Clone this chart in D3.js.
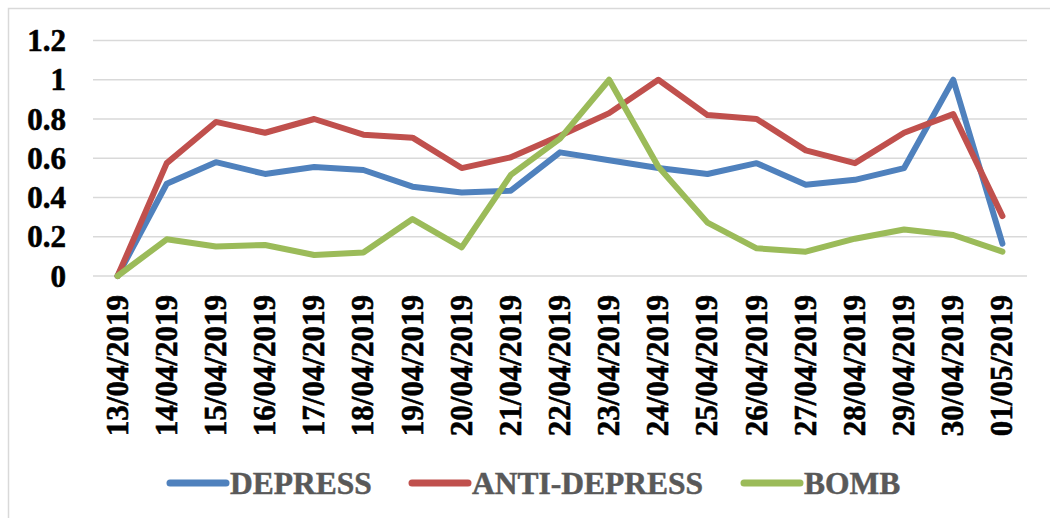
<!DOCTYPE html>
<html>
<head>
<meta charset="utf-8">
<script src="https://cdn.jsdelivr.net/npm/d3@7"></script>
<style>
  body { margin: 0; background: #fff; }
</style>
</head>
<body>
<div id="chart"></div>
<script>
var w = 1050, h = 518;
var serif = "'Liberation Serif', 'Times New Roman', serif";

// chart data
var dates = ["13/04/2019", "14/04/2019", "15/04/2019", "16/04/2019", "17/04/2019", "18/04/2019",
    "19/04/2019", "20/04/2019", "21/04/2019", "22/04/2019", "23/04/2019", "24/04/2019",
    "25/04/2019", "26/04/2019", "27/04/2019", "28/04/2019", "29/04/2019", "30/04/2019", "01/05/2019"];
var depress = [0, 0.47, 0.58, 0.52, 0.555, 0.54, 0.455, 0.425, 0.435, 0.63, 0.59, 0.55,
    0.52, 0.575, 0.465, 0.49, 0.55, 1.0, 0.165];
var antiDepress = [0, 0.575, 0.785, 0.73, 0.80, 0.72, 0.705, 0.55, 0.605, 0.715, 0.83, 1.0,
    0.82, 0.80, 0.64, 0.575, 0.73, 0.825, 0.305];
var bomb = [0, 0.187, 0.15, 0.158, 0.107, 0.12, 0.29, 0.146, 0.515, 0.70, 1.0, 0.557,
    0.272, 0.141, 0.124, 0.19, 0.237, 0.209, 0.124];
var yTicks = [0, 0.2, 0.4, 0.6, 0.8, 1, 1.2];

var series = [
    { name: "DEPRESS", values: depress, color: "#4F81BD" },
    { name: "ANTI-DEPRESS", values: antiDepress, color: "#C0504D" },
    { name: "BOMB", values: bomb, color: "#9BBB59" }
];

var svg = d3.select("#chart").append("svg")
    .attr("width", w).attr("height", h);

// outer chart border
svg.append("rect")
    .attr("x", 8.5).attr("y", 8.5)
    .attr("width", w + 20).attr("height", h + 20)
    .attr("fill", "#fff").attr("stroke", "#d9d9d9").attr("stroke-width", 1.5);

var x = d3.scaleBand().domain(dates).range([93, 1027]);
var y = d3.scaleLinear().domain([0, 1.2]).range([276, 40.5]);
var cx = d => x(d) + x.bandwidth() / 2;

// gridlines
svg.append("g").selectAll("line").data(yTicks).enter().append("line")
    .attr("x1", x.range()[0]).attr("x2", x.range()[1])
    .attr("y1", d => y(d)).attr("y2", d => y(d))
    .attr("stroke", "#d9d9d9").attr("stroke-width", 1.5);

// y tick labels
svg.append("g").selectAll("text").data(yTicks).enter().append("text")
    .attr("x", 66).attr("y", d => y(d)).attr("dy", "0.34em")
    .attr("text-anchor", "end")
    .style("font-family", serif).style("font-weight", "bold").style("font-size", "31px")
    .attr("fill", "#000").attr("stroke", "#000").attr("stroke-width", 0.6)
    .text(d => String(d));

// x tick labels, rotated
svg.append("g").selectAll("text").data(dates).enter().append("text")
    .attr("transform", d => "translate(" + (cx(d) + 10) + ",295) rotate(-90)")
    .attr("text-anchor", "end")
    .style("font-family", serif).style("font-weight", "bold").style("font-size", "31px")
    .attr("fill", "#000").attr("stroke", "#000").attr("stroke-width", 0.6)
    .text(d => d);

var line = d3.line()
    .x((d, i) => cx(dates[i]))
    .y(d => y(d));

svg.append("g").selectAll("path").data(series).enter().append("path")
    .attr("d", d => line(d.values))
    .attr("fill", "none")
    .attr("stroke", d => d.color)
    .attr("stroke-width", 6)
    .attr("stroke-linejoin", "round")
    .attr("stroke-linecap", "round");

// legend
var legendX = [170, 412, 744];
var legend = svg.append("g").selectAll("g").data(series).enter().append("g")
    .attr("transform", (d, i) => "translate(" + legendX[i] + ",483)");
legend.append("line")
    .attr("x1", 0).attr("x2", 56)
    .attr("stroke", d => d.color).attr("stroke-width", 7)
    .attr("stroke-linecap", "round");
legend.append("text")
    .attr("x", 60).attr("y", 11)
    .style("font-family", serif).style("font-weight", "bold").style("font-size", "31.5px")
    .attr("fill", "#595959").attr("stroke", "#595959").attr("stroke-width", 0.5)
    .text(d => d.name);
</script>
</body>
</html>
